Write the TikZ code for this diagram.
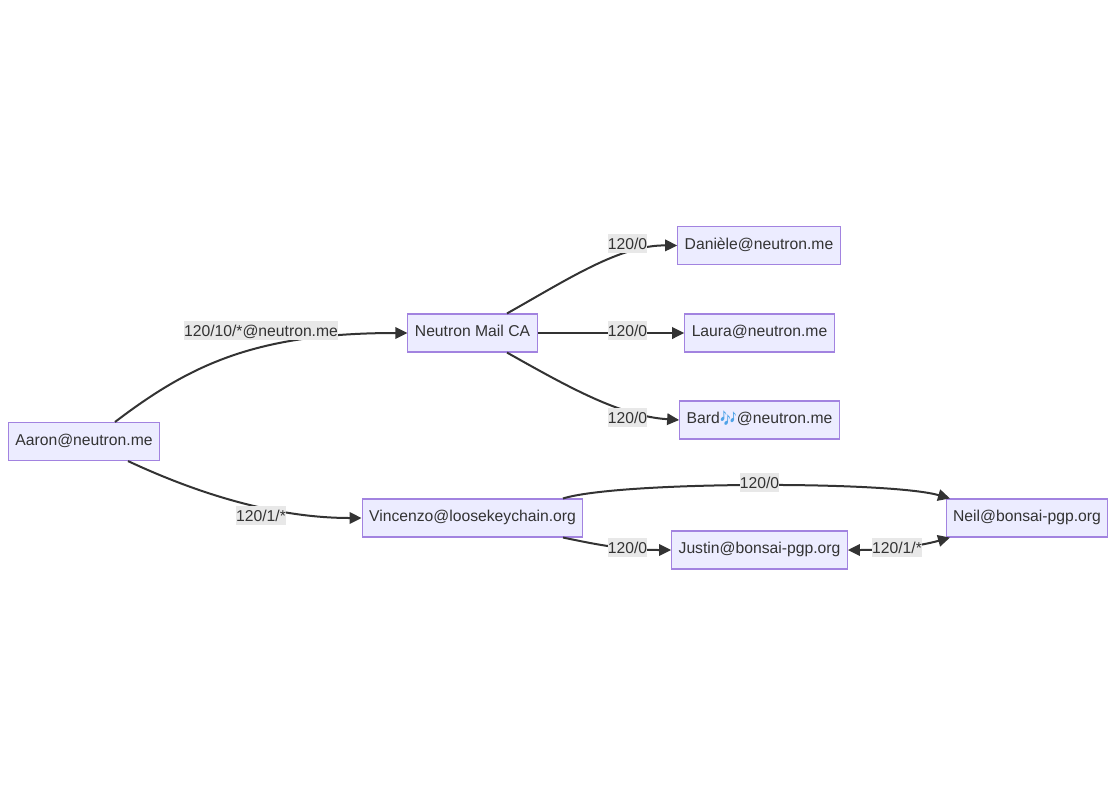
\documentclass[tikz,border=0pt]{standalone}
\usepackage{fontspec}
\usepackage{graphicx}
\setmainfont{Liberation Sans}
\newfontfamily\emojifont{Noto Emoji}
\usetikzlibrary{arrows.meta}
\definecolor{boxfill}{HTML}{ECECFF}
\definecolor{boxline}{HTML}{A283E0}
\definecolor{ink}{HTML}{333333}
\definecolor{lblfill}{HTML}{E8E8E8}
\definecolor{notes}{HTML}{4FA3E8}
\tikzset{acct/.style={draw=boxline, fill=boxfill, rectangle, line width=1.1pt, text=ink,
    font=\fontsize{15.7}{19}\selectfont, inner xsep=7pt, inner ysep=7.5pt, text height=15pt, text depth=8pt}}
\tikzset{lbl/.style={fill=lblfill, text=ink, font=\fontsize{15.7}{19}\selectfont,
    inner sep=0pt, text height=15.7pt, text depth=3.3pt}}
\tikzset{link/.style={draw=ink, line width=2pt, >={Triangle[length=12pt,width=11.5pt]}}}

\begin{document}
\begin{tikzpicture}[x=1pt, y=-1pt]
\useasboundingbox (0,0) rectangle (1116,796);
\node[acct] (aaron) at (84,441.5) {Aaron@neutron.me};
\node[acct] (neutronca) at (472.5,333) {Neutron Mail CA};
\node[acct] (vincenzo) at (472.5,518) {Vincenzo@loosekeychain.org};
\node[acct] (daniele) at (759,245.5) {Danièle@neutron.me};
\node[acct] (laura) at (759.5,333) {Laura@neutron.me};
\node[acct] (bard) at (759.5,420) {Bard{\emojifont\color{notes}\scalebox{.86}[1]{🎶}}@neutron.me};
\node[acct] (justin) at (759.5,550) {Justin@bonsai-pgp.org};
\node[acct] (neil) at (1027,518) {Neil@bonsai-pgp.org};

\draw[link,->] ([xshift=31pt]aaron.north) .. controls (190,365) and (255,333) .. (neutronca.west);
\draw[link,->] ([xshift=44pt]aaron.south) .. controls (190,490) and (270,518) .. (vincenzo.west);
\draw[link,->] ([xshift=34.5pt]neutronca.north) .. controls (570,278) and (620,245) .. (daniele.west);
\draw[link,->] (neutronca.east) -- (laura.west);
\draw[link,->] ([xshift=34.5pt]neutronca.south) .. controls (570,388) and (620,416) .. (bard.west);
\draw[link,->] ([xshift=90.5pt]vincenzo.north) .. controls (620,481) and (890,481) .. ([xshift=-77pt]neil.north);
\draw[link,->] ([xshift=90.5pt]vincenzo.south) .. controls (590,543) and (620,550) .. (justin.west);
\draw[link,<->] (justin.east) .. controls (890,550) and (920,546) .. ([xshift=-77pt]neil.south);

\node[lbl] (lblca) at (261,330.5) {120/10/*@neutron.me};
\node[lbl] (lblvin) at (261,515.5) {120/1/*};
\node[lbl] (lbldan) at (627.5,243.5) {120/0};
\node[lbl] (lbllau) at (627.5,330.5) {120/0};
\node[lbl] (lblbar) at (627.5,417.5) {120/0};
\node[lbl] (lblnei) at (759.5,482.5) {120/0};
\node[lbl] (lbljus) at (627.5,547.5) {120/0};
\node[lbl] (lblbon) at (897,547.5) {120/1/*};
\end{tikzpicture}
\end{document}
